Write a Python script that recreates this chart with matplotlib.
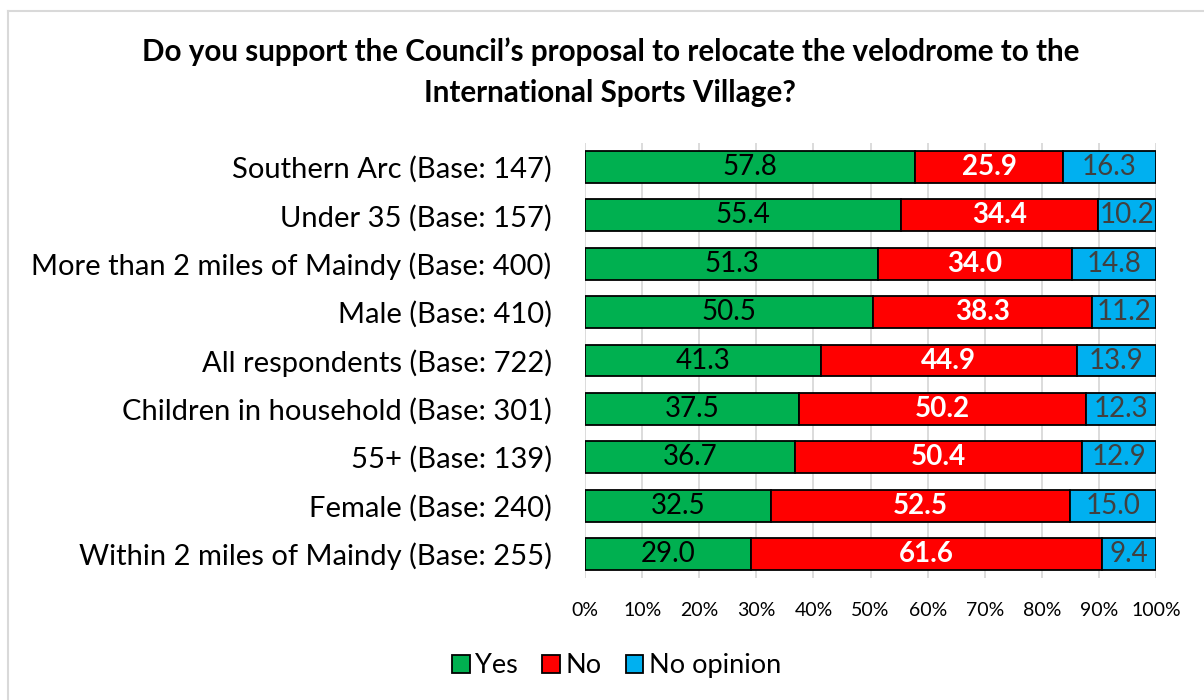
import numpy as np
import matplotlib.pyplot as plt
from matplotlib.lines import Line2D
from matplotlib.patches import Patch

plt.rcParams['font.family'] = ['Lato', 'DejaVu Sans']

groups = [
    "Southern Arc (Base: 147)",
    "Under 35 (Base: 157)",
    "More than 2 miles of Maindy (Base: 400)",
    "Male (Base: 410)",
    "All respondents (Base: 722)",
    "Children in household (Base: 301)",
    "55+ (Base: 139)",
    "Female (Base: 240)",
    "Within 2 miles of Maindy (Base: 255)",
]
yes = [57.8, 55.4, 51.3, 50.5, 41.3, 37.5, 36.7, 32.5, 29.0]
no = [25.9, 34.4, 34.0, 38.3, 44.9, 50.2, 50.4, 52.5, 61.6]
no_opinion = [16.3, 10.2, 14.8, 11.2, 13.9, 12.3, 12.9, 15.0, 9.4]

green = "#00B050"
red = "#FF0000"
blue = "#00B0F0"

fig = plt.figure(figsize=(12.04, 7), dpi=100)
ax = fig.add_axes([0.4859, 0.174, 0.4743, 0.622])

y = np.arange(len(groups))
yes_a = np.array(yes)
no_a = np.array(no)
nop_a = np.array(no_opinion)
tot = yes_a + no_a + nop_a
# bars are shown as share of 100%
yes_p = yes_a / tot * 100
no_p = no_a / tot * 100
nop_p = nop_a / tot * 100

h = 0.66
ax.barh(y, yes_p, height=h, color=green, edgecolor="black", linewidth=1.3, zorder=3)
ax.barh(y, no_p, left=yes_p, height=h, color=red, edgecolor="black", linewidth=1.3, zorder=3)
ax.barh(y, nop_p, left=yes_p + no_p, height=h, color=blue, edgecolor="black", linewidth=1.3, zorder=3)

fs = 20
for i in range(len(groups)):
    ax.text(yes_p[i] / 2, y[i], f"{yes[i]:.1f}", ha="center", va="center", fontsize=fs, color="black", zorder=4)
    ax.text(yes_p[i] + no_p[i] / 2, y[i], f"{no[i]:.1f}", ha="center", va="center", fontsize=fs,
            color="white", fontweight="bold", zorder=4)
    ax.text(yes_p[i] + no_p[i] + nop_p[i] / 2, y[i], f"{no_opinion[i]:.1f}", ha="center", va="center",
            fontsize=fs, color="#404040", zorder=4)

ax.set_xlim(0, 100)
ax.set_ylim(len(groups) - 0.5, -0.5)
ax.set_yticks(y)
ax.set_yticklabels(groups, fontsize=21)
ax.set_xticks(np.arange(0, 101, 10))
ax.set_xticklabels([f"{v}%" for v in range(0, 101, 10)], fontsize=14)
ax.tick_params(axis="both", length=0)
ax.tick_params(axis="x", pad=17)
ax.tick_params(axis="y", pad=24)
ax.grid(axis="x", color="#D9D9D9", linewidth=1.3, zorder=0)
for s in ax.spines.values():
    s.set_visible(False)

fig.text(0.507, 0.897, "Do you support the Council\u2019s proposal to relocate the velodrome to the\nInternational Sports Village?",
         ha="center", va="center", fontsize=21.3, fontweight="bold", linespacing=1.55)

handles = [Patch(facecolor=green, edgecolor="black", linewidth=1.3),
           Patch(facecolor=red, edgecolor="black", linewidth=1.3),
           Patch(facecolor=blue, edgecolor="black", linewidth=1.3)]
fig.legend(handles, ["Yes", "No", "No opinion"], loc="center", bbox_to_anchor=(0.512, 0.049), ncol=3,
           frameon=False, fontsize=19.5, handlelength=0.65, handleheight=0.65, handletextpad=0.2, columnspacing=0.9)

# outer chart border (left and top only visible)
fig.add_artist(Line2D([8 / 1204, 8 / 1204], [0, 1 - 11 / 700], color="#D9D9D9", linewidth=1.5))
fig.add_artist(Line2D([8 / 1204, 1], [1 - 11 / 700, 1 - 11 / 700], color="#D9D9D9", linewidth=1.5))

fig.savefig("out.png", dpi=100)
